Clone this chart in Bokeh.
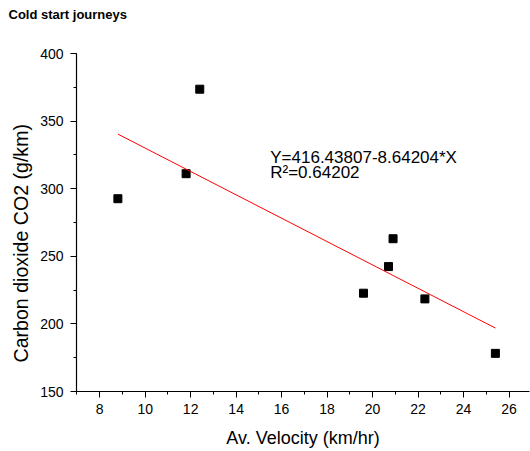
from bokeh.plotting import figure
from bokeh.models import Range1d, SingleIntervalTicker, Label, Title
from bokeh.embed import file_html
from bokeh.resources import INLINE

# Data
velocity = [8.8, 11.8, 12.4, 19.6, 20.7, 20.9, 22.3, 25.4]
co2 = [292.6, 311.1, 373.6, 222.7, 242.4, 263.0, 218.5, 178.2]
intercept = 416.43807
slope = -8.64204
r_squared = 0.64202

title_text = "Cold start journeys"
x_label = "Av. Velocity (km/hr)"
y_label = "Carbon dioxide CO2 (g/km)"

FONT = "Liberation Sans"

p = figure(width=530, height=451, output_backend="svg", toolbar_location=None,
           x_range=Range1d(6.98, 26.9), y_range=Range1d(150, 400),
           min_border_left=76, min_border_right=1, min_border_top=53, min_border_bottom=60)

p.title.text = title_text
p.title.text_font = FONT
p.title.text_font_size = "13px"
p.title.text_font_style = "bold"
p.title.align = "left"
p.title.vertical_align = "top"
p.title.offset = -68
p.title.standoff = 0
p.title.padding = dict(left=0, right=0, top=0, bottom=30)
p.title.text_color = "black"

p.outline_line_color = None
p.xgrid.grid_line_color = None
p.ygrid.grid_line_color = None
p.background_fill_color = "white"
p.border_fill_color = "white"

p.xaxis.ticker = SingleIntervalTicker(interval=2, num_minor_ticks=2)
p.yaxis.ticker = SingleIntervalTicker(interval=50, num_minor_ticks=2)

for ax in (p.xaxis, p.yaxis):
    ax.axis_line_color = "black"
    ax.axis_line_width = 1.2
    ax.major_tick_line_color = "black"
    ax.minor_tick_line_color = "black"
    ax.major_tick_in = 0
    ax.major_tick_out = 6
    ax.minor_tick_in = 0
    ax.minor_tick_out = 3
    ax.major_label_text_font = FONT
    ax.major_label_text_font_size = "14px"
    ax.major_label_text_color = "black"
    ax.axis_label_text_font = FONT
    ax.axis_label_text_font_size = "18px"
    ax.axis_label_text_font_style = "normal"
    ax.axis_label_text_color = "black"

p.xaxis.axis_label = x_label
p.xaxis.major_label_standoff = 6
p.yaxis.major_label_standoff = 7
p.xaxis.axis_label_standoff = 11

# Y axis title as a left-side title, starting a little above the frame bottom
y_title = Title(text=y_label, align="left", offset=29, standoff=12,
                text_font=FONT, text_font_size="19.6px", text_font_style="normal",
                text_color="black")
p.add_layout(y_title, "left")

# Scatter points
p.scatter(velocity, co2, marker="square", size=8, fill_color="black", line_color="black")

# Linear fit line over the data range
x_fit = [min(velocity), max(velocity)]
y_fit = [intercept + slope * x for x in x_fit]
p.line(x_fit, y_fit, line_color="red", line_width=1)

eq_text = "Y=%.5f%.5f*X" % (intercept, slope)
p.add_layout(Label(x=15.5, y=323.4, text=eq_text, text_font=FONT, text_font_size="17px",
                   text_color="black", text_baseline="middle"))
p.add_layout(Label(x=15.5, y=312.0, text="R\u00b2=%.5f" % r_squared, text_font=FONT,
                   text_font_size="17px", text_color="black", text_baseline="middle"))

open("out.html", "w").write(file_html(p, INLINE))
